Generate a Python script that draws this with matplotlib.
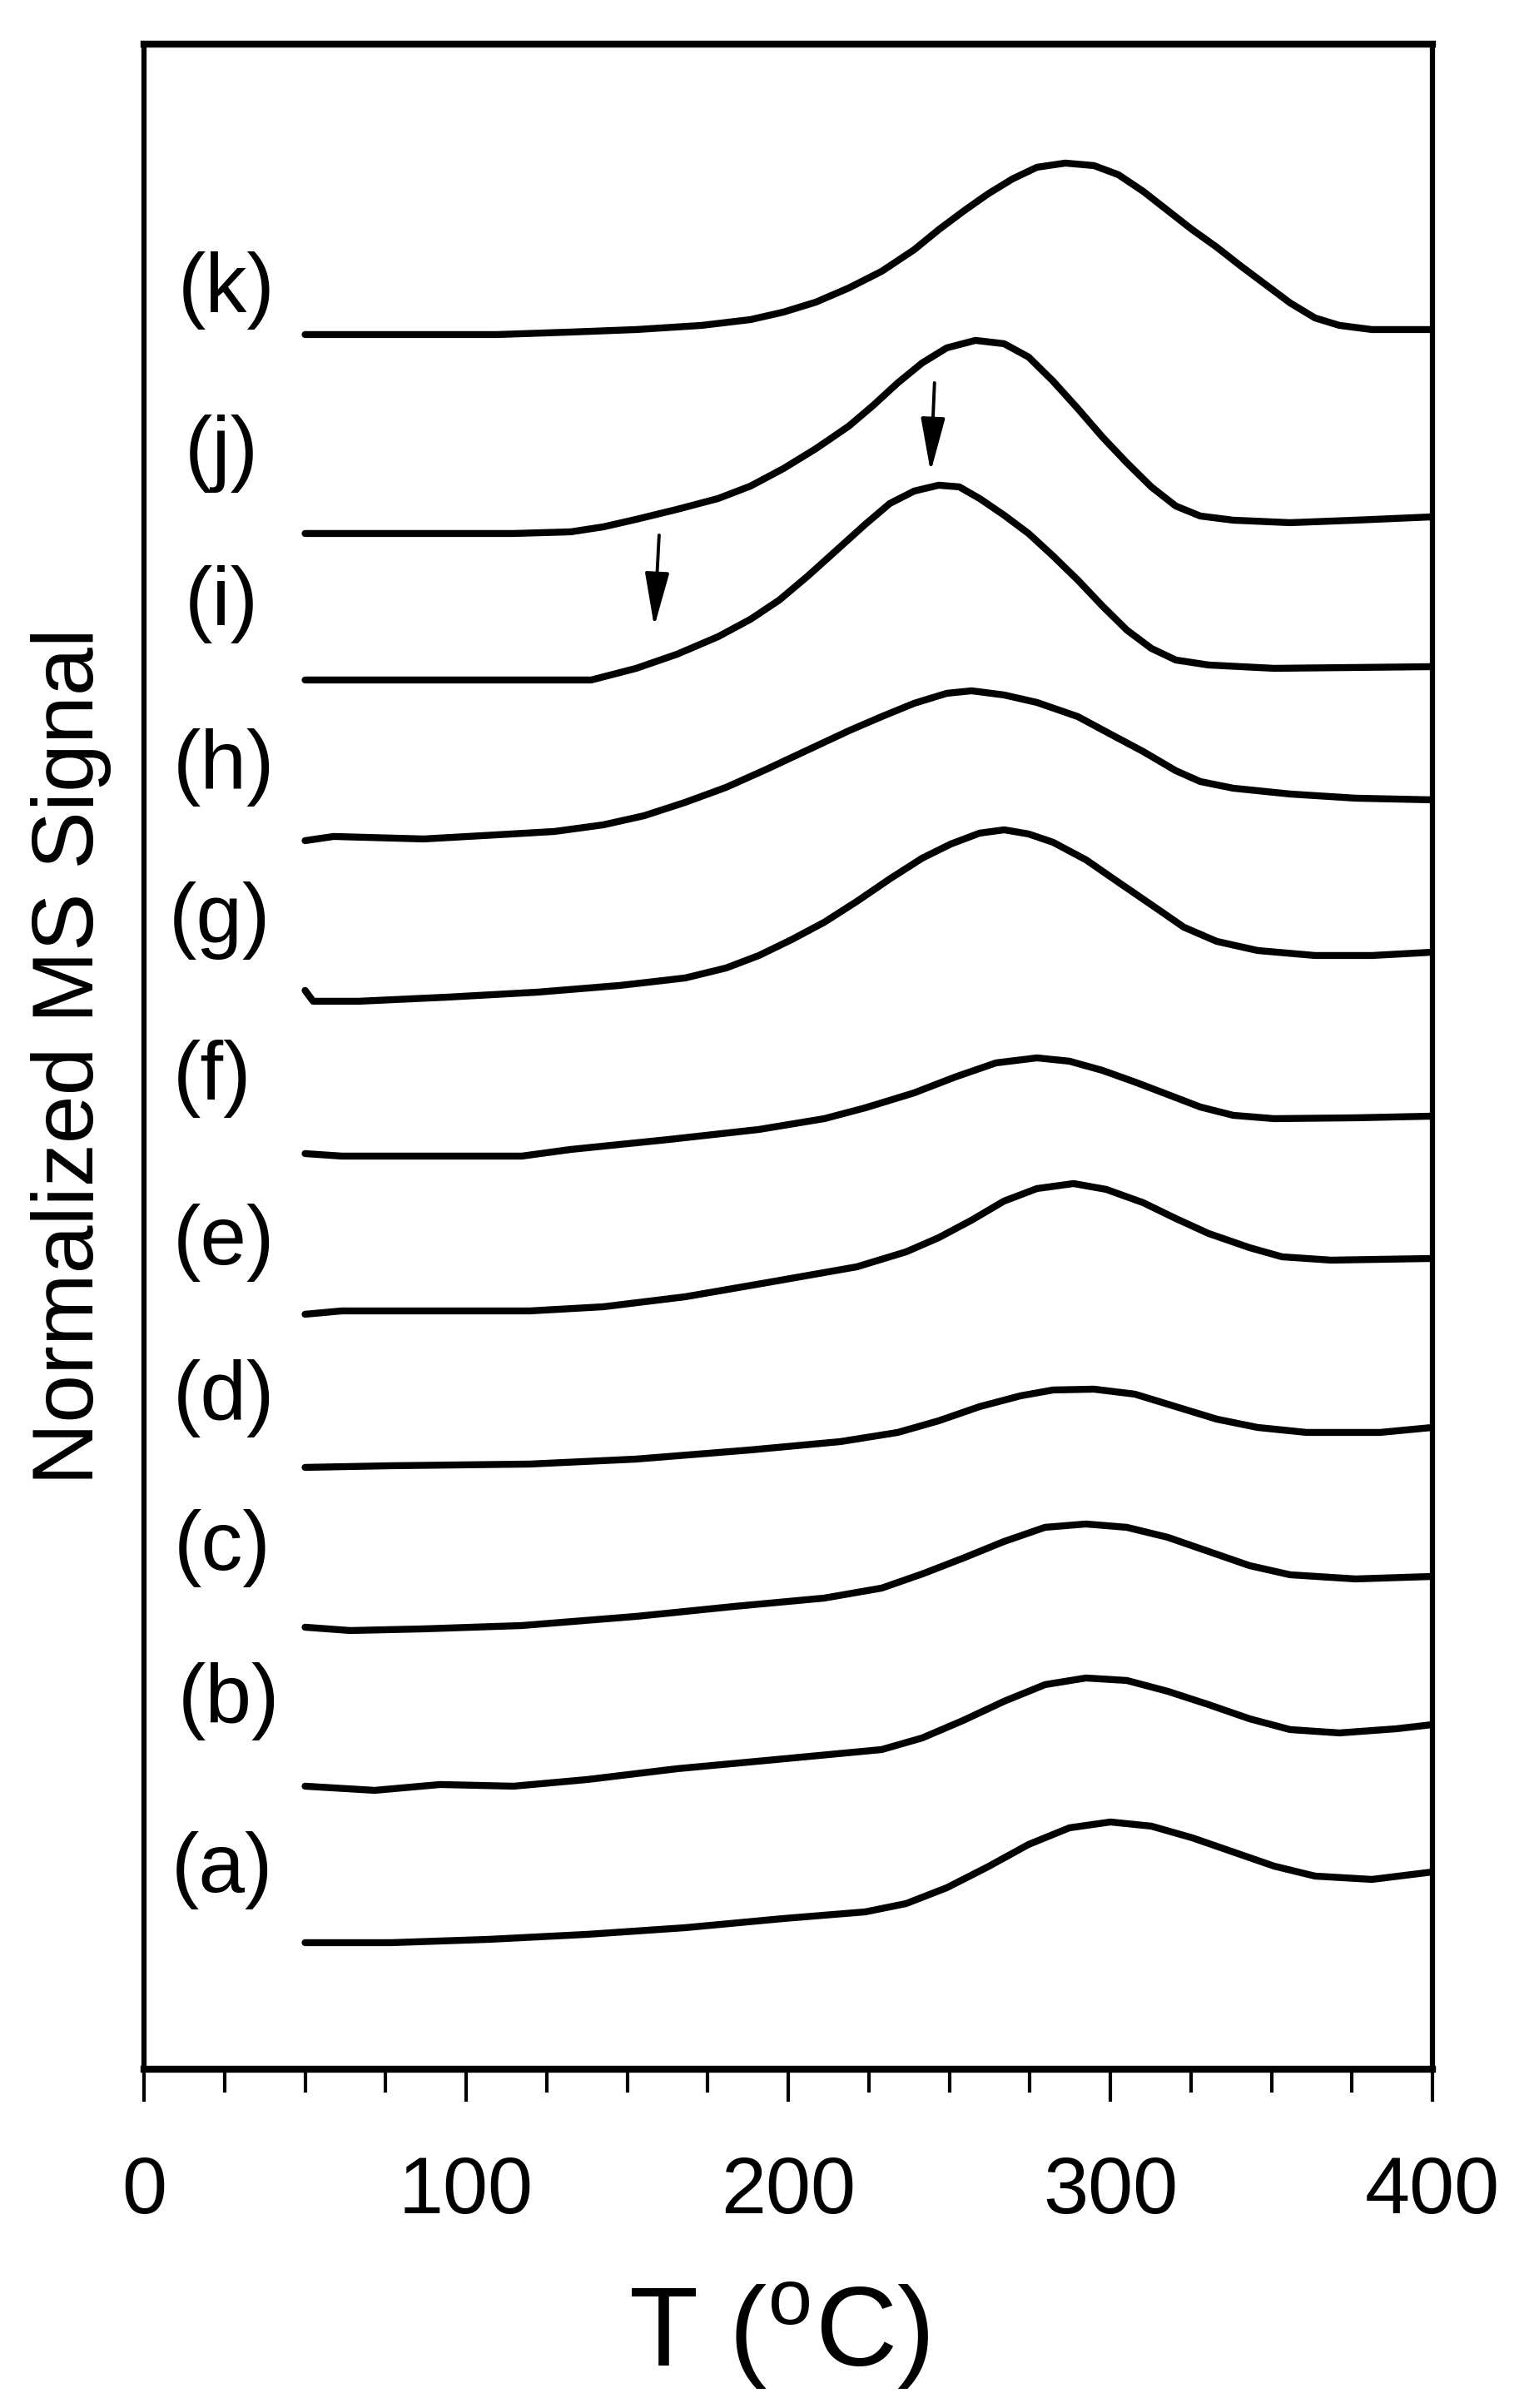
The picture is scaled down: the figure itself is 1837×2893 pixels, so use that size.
import matplotlib
matplotlib.use("Agg")
import matplotlib.pyplot as plt

plt.rcParams['font.family'] = ['Liberation Sans', 'DejaVu Sans']
plt.rcParams['mathtext.fontset'] = 'custom'
plt.rcParams['mathtext.rm'] = 'Liberation Sans'
plt.rcParams['mathtext.it'] = 'Liberation Sans:italic'

# ---- data (T in degC, normalized & offset MS signal) ----
T_k = [50, 109.6, 132.5, 152.8, 173.1, 188.3, 198.5, 208.6, 218.8, 229.0, 239.1, 246.7, 254.3, 262.0, 269.6, 277.2, 286.0, 294.9, 302.5, 310.2, 317.8, 325.4, 333.0, 340.6, 348.2, 355.8, 363.5, 371.1, 381.2, 400]
S_k = [20.72, 20.72, 20.75, 20.78, 20.83, 20.90, 20.99, 21.11, 21.28, 21.48, 21.74, 21.98, 22.20, 22.41, 22.59, 22.73, 22.78, 22.75, 22.64, 22.44, 22.21, 21.98, 21.77, 21.54, 21.32, 21.10, 20.92, 20.83, 20.78, 20.78]

T_j = [50, 114.7, 132.5, 142.6, 152.8, 165.5, 178.2, 188.3, 198.5, 208.6, 218.8, 226.4, 234.0, 241.6, 249.2, 258.1, 267.0, 274.6, 282.2, 289.9, 297.5, 305.1, 312.7, 320.3, 327.9, 338.1, 355.8, 376.1, 400]
S_j = [18.33, 18.33, 18.35, 18.41, 18.50, 18.62, 18.75, 18.90, 19.11, 19.35, 19.62, 19.87, 20.14, 20.38, 20.56, 20.65, 20.61, 20.45, 20.16, 19.83, 19.49, 19.18, 18.89, 18.66, 18.54, 18.49, 18.46, 18.49, 18.53]

T_i = [50, 138.8, 152.8, 165.5, 178.2, 188.3, 197.2, 206.1, 215.0, 223.9, 231.5, 239.1, 246.7, 253.1, 259.4, 267.0, 274.6, 282.2, 289.9, 297.5, 305.1, 312.7, 320.3, 330.5, 350.8, 400]
S_i = [16.57, 16.57, 16.71, 16.88, 17.09, 17.30, 17.53, 17.82, 18.13, 18.44, 18.69, 18.84, 18.91, 18.89, 18.75, 18.55, 18.33, 18.06, 17.77, 17.46, 17.17, 16.95, 16.81, 16.75, 16.71, 16.73]

T_h = [50, 58.9, 86.8, 109.6, 127.4, 142.6, 155.3, 168.0, 180.7, 193.4, 206.1, 218.8, 229.0, 239.1, 249.2, 256.9, 267.0, 277.2, 289.9, 300.0, 310.2, 320.3, 327.9, 338.1, 355.8, 376.1, 400]
S_h = [14.64, 14.69, 14.66, 14.71, 14.75, 14.83, 14.94, 15.10, 15.28, 15.50, 15.73, 15.96, 16.13, 16.29, 16.41, 16.44, 16.39, 16.30, 16.13, 15.92, 15.71, 15.48, 15.35, 15.27, 15.20, 15.15, 15.13]

T_g = [50, 52.5, 66.5, 94.4, 122.3, 147.7, 168.0, 180.7, 190.9, 201.0, 211.2, 221.3, 231.5, 241.6, 250.5, 259.4, 267.0, 274.6, 282.2, 292.4, 302.5, 312.7, 322.8, 333.0, 345.7, 363.5, 381.2, 400]
S_g = [12.84, 12.71, 12.71, 12.76, 12.82, 12.90, 12.99, 13.11, 13.26, 13.45, 13.66, 13.91, 14.18, 14.43, 14.60, 14.73, 14.77, 14.72, 14.62, 14.41, 14.14, 13.87, 13.60, 13.43, 13.32, 13.26, 13.26, 13.30]

T_f = [50, 61.4, 117.3, 132.5, 163.0, 190.9, 211.2, 223.9, 239.1, 251.8, 264.5, 277.2, 287.3, 297.5, 307.6, 317.8, 327.9, 338.1, 350.8, 376.1, 400]
S_f = [10.88, 10.85, 10.85, 10.93, 11.05, 11.17, 11.30, 11.43, 11.61, 11.80, 11.97, 12.03, 11.99, 11.88, 11.74, 11.59, 11.44, 11.34, 11.30, 11.31, 11.33]

T_e = [50, 61.4, 119.8, 142.6, 168.0, 193.4, 221.3, 236.6, 246.7, 256.9, 267.0, 277.2, 288.6, 298.7, 310.2, 320.3, 330.5, 343.2, 353.3, 368.5, 400]
S_e = [8.95, 8.99, 8.99, 9.04, 9.16, 9.33, 9.52, 9.70, 9.87, 10.08, 10.31, 10.46, 10.52, 10.45, 10.29, 10.10, 9.92, 9.75, 9.64, 9.60, 9.62]

T_d = [50, 76.7, 119.8, 152.8, 188.3, 216.2, 234.0, 246.7, 259.4, 272.1, 282.2, 294.9, 307.6, 320.3, 333.0, 345.7, 360.9, 383.7, 400]
S_d = [7.11, 7.13, 7.15, 7.21, 7.32, 7.42, 7.53, 7.67, 7.84, 7.97, 8.04, 8.05, 7.99, 7.84, 7.69, 7.59, 7.53, 7.53, 7.59]

T_c = [50, 64.0, 86.8, 117.3, 152.8, 183.3, 211.2, 229.0, 241.6, 254.3, 267.0, 279.7, 292.4, 305.1, 317.8, 330.5, 343.2, 355.8, 376.1, 400]
S_c = [5.19, 5.15, 5.17, 5.21, 5.32, 5.44, 5.54, 5.66, 5.83, 6.02, 6.22, 6.39, 6.43, 6.39, 6.27, 6.10, 5.93, 5.82, 5.77, 5.80]

T_b = [50, 71.6, 91.9, 114.7, 137.6, 165.5, 193.4, 229.0, 241.6, 254.3, 267.0, 279.7, 292.4, 305.1, 317.8, 330.5, 343.2, 355.8, 371.1, 388.8, 400]
S_b = [3.28, 3.23, 3.30, 3.28, 3.36, 3.49, 3.59, 3.72, 3.86, 4.07, 4.30, 4.50, 4.58, 4.55, 4.42, 4.26, 4.09, 3.96, 3.92, 3.97, 4.02]

T_a = [50, 76.7, 107.1, 137.6, 168.0, 198.5, 223.9, 236.6, 249.2, 261.9, 274.6, 287.3, 300.0, 312.7, 325.4, 338.1, 350.8, 363.5, 381.2, 400]
S_a = [1.40, 1.40, 1.44, 1.50, 1.58, 1.69, 1.77, 1.87, 2.06, 2.31, 2.58, 2.78, 2.85, 2.80, 2.66, 2.49, 2.32, 2.20, 2.16, 2.25]

curve_T = [T_a, T_b, T_c, T_d, T_e, T_f, T_g, T_h, T_i, T_j, T_k]
curve_S = [S_a, S_b, S_c, S_d, S_e, S_f, S_g, S_h, S_i, S_j, S_k]

labels = ['(a)', '(b)', '(c)', '(d)', '(e)', '(f)', '(g)', '(h)', '(i)', '(j)', '(k)']
label_T = [24.2, 26.3, 24.2, 24.7, 24.7, 21.3, 23.4, 24.7, 24.2, 24.2, 25.5]
label_S = [2.27, 4.30, 6.14, 7.94, 9.81, 11.78, 13.68, 15.52, 17.48, 19.29, 21.25]

# arrows: (tail T, tail S, head T, head S)
arrow_tail_T = [245.4, 159.9]
arrow_tail_S = [20.14, 18.31]
arrow_head_T = [244.2, 158.4]
arrow_head_S = [19.07, 17.21]

xticks_major = [0, 100, 200, 300, 400]

# ---- figure ----
fig = plt.figure(figsize=(18.37, 28.93), dpi=100)
ax = fig.add_axes([0.0942, 0.1407, 0.8427, 0.8410])

for T, S in zip(curve_T, curve_S):
    ax.plot(T, S, color='black', lw=6.0, solid_joinstyle='round', solid_capstyle='round')

for lab, lx, ly in zip(labels, label_T, label_S):
    ax.text(lx, ly, lab, fontsize=72, ha='center', va='center')

for tx, ty, hx, hy in zip(arrow_tail_T, arrow_tail_S, arrow_head_T, arrow_head_S):
    ax.annotate('', xy=(hx, hy), xytext=(tx, ty),
                arrowprops=dict(arrowstyle='-|>,head_length=2.0,head_width=0.45',
                                mutation_scale=20, lw=2.8, color='black',
                                shrinkA=0, shrinkB=0))

ax.set_xlim(0, 400)
ax.set_ylim(-0.12, 24.21)
ax.set_xticks(xticks_major)
ax.set_xticks(range(0, 401, 25), minor=True)
ax.set_yticks([])
ax.tick_params(axis='x', which='major', direction='out', length=28, width=3,
               labelsize=70, pad=46)
ax.tick_params(axis='x', which='minor', direction='out', length=20.5, width=3)
ax.tick_params(axis='x', top=False)

for side in ['top', 'bottom']:
    ax.spines[side].set_linewidth(6)
for side in ['left', 'right']:
    ax.spines[side].set_linewidth(4.5)

ax.set_xlabel(r'T ($^{\rm o}$C)', fontsize=98)
ax.xaxis.set_label_coords(0.4929, -0.1467)
ax.xaxis.label.set_verticalalignment('baseline')

ax.set_ylabel('Normalized MS Signal', fontsize=75)
ax.yaxis.set_label_coords(-0.0394, 0.5)
ax.yaxis.label.set_verticalalignment('baseline')
ax.yaxis.label.set_horizontalalignment('center')

fig.savefig('out.png', dpi=100)
